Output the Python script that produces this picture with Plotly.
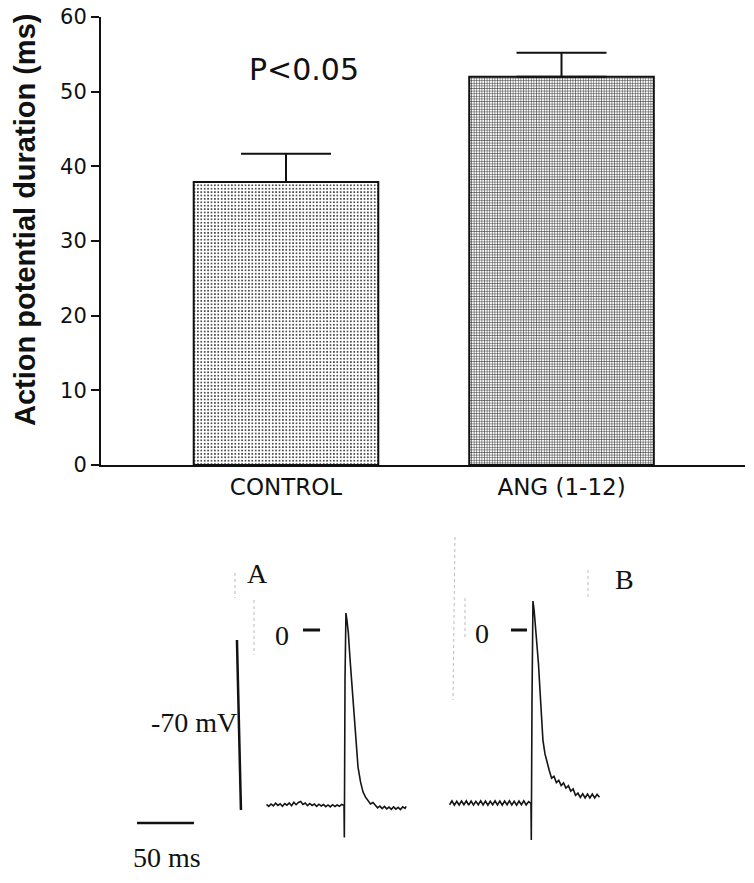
import plotly.graph_objects as go

# %% data
# --------------------

# bar chart: action potential duration (ms), mean and upper SEM
groups = ["CONTROL", "ANG (1-12)"]
apd_mean = [37.9, 52.0]
apd_sem = [3.8, 3.2]
p_text = "P<0.05"

# trace A (control), time in ms from stimulus, membrane potential in mV
a_t = [-68, -66, -64, -62, -60, -58, -56, -54, -52, -50, -48, -46, -44, -42,
       -40, -38, -36, -34, -32, -30, -28, -26, -24, -22, -20, -18, -16, -14,
       -12, -10, -8, -6, -4, -2, 0,
       0.3, 0.9, 1.7, 2.6, 3.8, 5.3, 6.8, 8.2, 9.6, 11.0, 12.3, 14.5, 16.7,
       18.9, 21.1, 23.2, 25.4, 27.5, 29.5, 31.5, 33.5, 35.5, 37.5, 39.5, 41.5,
       43.5, 45.5, 47.5, 49.5, 51.5, 53.5, 54.5]
a_v = [-71.8, -72.6, -71.6, -72.4, -71.3, -72.2, -71.5, -72.5, -71.4, -72.1,
       -71.2, -72.3, -70.9, -71.9, -71.0, -70.6, -71.8, -71.2, -72.3, -71.4,
       -72.2, -71.6, -72.6, -71.7, -72.4, -71.8, -72.7, -72.0, -72.8, -71.9,
       -72.6, -72.0, -72.5, -71.8, -72.2,
       -85.4, -20.0, 7.0, 4.0, -1.2, -12.0, -21.8, -32.0, -42.4, -50.0, -56.4,
       -62.5, -66.7, -68.8, -70.0, -71.6, -71.0, -72.4, -73.2, -72.5, -73.5,
       -72.6, -73.6, -72.9, -73.8, -72.8, -73.7, -73.0, -73.9, -72.8, -73.4,
       -72.6]

# trace B (ANG 1-12)
b_t = [-71.4, -69.3, -67.2, -65.1, -63.0, -60.9, -58.8, -56.7, -54.6, -52.5,
       -50.4, -48.3, -46.2, -44.1, -42.0, -39.9, -37.8, -35.7, -33.6, -31.5,
       -29.4, -27.3, -25.2, -23.1, -21.0, -18.9, -16.8, -14.7, -12.6, -10.5,
       -8.4, -6.3, -4.2, -2.1, 0.0,
       0.3, 0.9, 1.75, 2.8, 4.0, 5.3, 6.6, 7.9, 9.2, 10.5, 12.3, 14.0,
       16.0, 18.1, 20.2, 22.3, 24.4, 26.5, 28.6, 30.7, 32.8, 34.9, 37.0, 39.1,
       41.2, 43.3, 45.4, 47.5, 49.6, 51.7, 53.8, 55.9, 58.0, 60.1]
b_v = [-71.9, -70.3, -72.1, -70.5, -72.0, -70.4, -71.9, -70.3, -72.1, -70.4,
       -72.0, -70.5, -71.9, -70.3, -72.0, -70.4, -72.1, -70.5, -71.9, -70.3,
       -72.0, -70.4, -72.1, -70.4, -71.9, -70.3, -72.0, -70.5, -72.1, -70.4,
       -71.9, -70.3, -72.0, -70.6, -71.4,
       -86.4, -30.0, 11.9, 8.0, 1.0, -4.1, -14.0, -24.7, -35.0, -45.3, -51.0,
       -54.7, -57.7, -61.0, -60.2, -62.8, -61.9, -64.0, -62.9, -65.1, -64.1,
       -66.3, -65.4, -68.0, -67.1, -68.9, -67.4, -69.1, -67.5, -69.1, -67.5,
       -69.1, -67.6, -68.8]

scale_ms = 50   # time calibration bar
scale_mv = 70   # voltage calibration bar

# %% layout helpers
# --------------------
# body margin is removed in the page (post_script), so the figure fills the window
W, H = 754, 883


def px(x):
    return x / W


def py(y):
    return 1 - y / H


b_offset = 164          # ms, where trace B is drawn on the shared time axis
t_per_px = 1 / 1.14     # ms per pixel
mv_per_px = 1 / 2.43    # mV per pixel
stim_a_px = 344
zero_px = 630

trace_style = dict(color="#151515", width=1.6)

# %% figure
# --------------------
fig = go.Figure()

fig.add_trace(go.Bar(
    x=groups, y=apd_mean, width=0.67,
    marker=dict(
        color="white",
        line=dict(color="#111", width=2),
        pattern=dict(shape=[".", "+"], size=[3.4, 2.6], solidity=[0.22, 0.34],
                     fgcolor="#222", bgcolor="white"),
    ),
    error_y=dict(type="data", array=apd_sem, arrayminus=[0, 0], symmetric=False,
                 color="#111", thickness=2, width=45),
    xaxis="x", yaxis="y", showlegend=False,
))

# action potential traces
fig.add_trace(go.Scatter(x=a_t, y=a_v, mode="lines", line=trace_style,
                         xaxis="x2", yaxis="y2", showlegend=False))
fig.add_trace(go.Scatter(x=[t + b_offset for t in b_t], y=b_v, mode="lines",
                         line=trace_style, xaxis="x2", yaxis="y2", showlegend=False))

# 0 mV markers
fig.add_trace(go.Scatter(x=[-36, -21], y=[0, 0], mode="lines",
                         line=dict(color="#111", width=3),
                         xaxis="x2", yaxis="y2", showlegend=False))
fig.add_trace(go.Scatter(x=[b_offset - 17.5, b_offset - 3.5], y=[0, 0], mode="lines",
                         line=dict(color="#111", width=3),
                         xaxis="x2", yaxis="y2", showlegend=False))

# calibration bars
t0 = -181.6
fig.add_trace(go.Scatter(x=[t0, t0 + scale_ms], y=[-79.4, -79.4], mode="lines",
                         line=dict(color="#111", width=2.5),
                         xaxis="x2", yaxis="y2", showlegend=False))
fig.add_trace(go.Scatter(x=[-93.9, -90.4], y=[-4.1, -4.1 - scale_mv], mode="lines",
                         line=dict(color="#111", width=2.5),
                         xaxis="x2", yaxis="y2", showlegend=False))

x2_range = [-stim_a_px * t_per_px, (W - stim_a_px) * t_per_px]
y2_range = [(zero_px - H) * mv_per_px, (zero_px - 520) * mv_per_px]

fig.update_layout(
    width=W, height=H, template="none",
    margin=dict(l=0, r=0, t=0, b=0),
    paper_bgcolor="white", plot_bgcolor="rgba(0,0,0,0)",
    xaxis=dict(domain=[px(101), px(745)], range=[-0.6715, 1.666],
               showline=True, linewidth=2, linecolor="#111", ticks="",
               showgrid=False, zeroline=False, automargin=False,
               ticklabeloverflow="allow",
               tickfont=dict(family="DejaVu Sans", size=23, color="#111")),
    yaxis=dict(domain=[py(465), py(17)], range=[0, 60], dtick=10,
               showline=True, linewidth=2, linecolor="#111",
               ticks="outside", ticklen=8, tickwidth=2, tickcolor="#111",
               showgrid=False, zeroline=False, automargin=False,
               ticklabeloverflow="allow",
               tickfont=dict(family="DejaVu Sans", size=21, color="#111")),
    xaxis2=dict(domain=[0, 1], range=x2_range, visible=False),
    yaxis2=dict(domain=[0, py(520)], range=y2_range, visible=False),
)

serif = dict(family="Liberation Serif", size=28, color="#111")
notes = [
    (p_text, 304, 70, dict(family="DejaVu Sans", size=30, color="#111"), 0),
    ("Action potential duration (ms)", 25, 220,
     dict(family="Liberation Sans", size=29, color="#111", weight="bold"), -90),
    ("A", 257, 573, serif, 0),
    ("B", 624, 579, serif, 0),
    ("0", 282, 635, serif, 0),
    ("0", 482, 633, serif, 0),
    ("-70 mV", 194, 722, serif, 0),
    ("50 ms", 167, 857, serif, 0),
]
for text, x, y, font, angle in notes:
    fig.add_annotation(text=text, x=px(x), y=py(y), xref="paper", yref="paper",
                       showarrow=False, font=font, textangle=angle,
                       xanchor="center", yanchor="middle")

# faint scanning marks near the traces
for x0, y0, x1, y1 in [(235, 573, 235, 598), (254, 600, 254, 655),
                       (455, 537, 453, 700), (465, 598, 465, 640),
                       (588, 570, 588, 598)]:
    fig.add_shape(type="line", xref="paper", yref="paper",
                  x0=px(x0), y0=py(y0), x1=px(x1), y1=py(y1),
                  line=dict(color="#bbb", width=1, dash="dot"))

fig.write_html("out.html", config={"displayModeBar": False},
               post_script="document.body.style.margin='0';"
                           "document.body.style.overflow='hidden';")
